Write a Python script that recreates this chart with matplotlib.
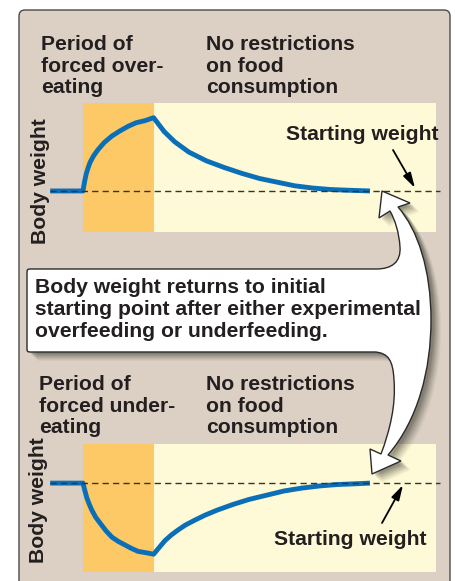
import numpy as np
import matplotlib
matplotlib.use("Agg")
import matplotlib.pyplot as plt
from matplotlib.path import Path
from matplotlib.patches import PathPatch, FancyBboxPatch
from matplotlib import rcParams
rcParams['font.family'] = ['Liberation Sans', 'DejaVu Sans']

# time (arbitrary units) and body weight relative to starting weight
t_over = [-0.93, 0.0, 0.02, 0.05, 0.09, 0.14, 0.2, 0.3, 0.42, 0.6, 0.82, 1.05, 1.27, 1.5, 1.76, 2.0,
          2.3, 2.6, 3.0, 3.5, 4.0, 4.5, 5.0, 5.5, 6.0, 6.5, 7.0, 7.5, 8.13]
w_over = [0.0, 0.0, 0.06, 0.14, 0.23, 0.31, 0.39, 0.48, 0.56, 0.66, 0.75, 0.82, 0.88, 0.93, 0.96, 1.0,
          0.81, 0.67, 0.53, 0.41, 0.32, 0.24, 0.17, 0.12, 0.07, 0.04, 0.02, 0.01, 0.0]

t_under = [-0.93, 0.0, 0.02, 0.05, 0.11, 0.18, 0.25, 0.36, 0.48, 0.65, 0.82, 1.0, 1.19, 1.38, 1.56, 1.8, 2.0,
           2.15, 2.32, 2.5, 2.69, 2.9, 3.17, 3.46, 3.8, 4.25, 4.7, 5.2, 5.7, 6.2, 6.7, 7.2, 7.7, 8.13]
w_under = [0.0, 0.0, -0.04, -0.10, -0.21, -0.30, -0.38, -0.48, -0.56, -0.67, -0.76, -0.82, -0.87, -0.92, -0.96, -0.98, -1.0,
           -0.91, -0.81, -0.73, -0.66, -0.59, -0.52, -0.45, -0.38, -0.30, -0.23, -0.17, -0.11, -0.07, -0.04, -0.02, -0.01, 0.0]

forced_period = (0.0, 2.0)
free_period = (2.0, 10.0)
baseline_span = (-0.93, 10.11)

labels_over = ["Period of", "forced over-", "eating"]
labels_under = ["Period of", "forced under-", "eating"]
labels_free = ["No restrictions", "on food", "consumption"]
callout_lines = ["Body weight returns to initial",
                 "starting point after either experimental",
                 "overfeeding or underfeeding."]

TAN = "#DCD0C4"
ORANGE = "#FDC966"
YELLOW = "#FEF9D6"
BLUE = "#0B6FB8"
INK = "#231F20"

W, H = 455, 581
fig = plt.figure(figsize=(W / 100, H / 100), dpi=100)

def pix_axes(x0, y0, x1, y1, zorder):
    ax = fig.add_axes([x0 / W, 1 - y1 / H, (x1 - x0) / W, (y1 - y0) / H])
    ax.set_zorder(zorder)
    return ax

# background axes in pixel units
bg = pix_axes(0, 0, W, H, 0)
bg.set_xlim(0, W)
bg.set_ylim(H, 0)
bg.axis("off")
bg.add_patch(FancyBboxPatch((19, 10), 431, 600, boxstyle="round,pad=0,rounding_size=6",
                            fc=TAN, ec="#4a4a4a", lw=1.0))

# plot axes: t -> px = 83 + 35.3 t
px_per_t = 35.3
xlim = (-1.1, 10.3)
xa0 = 83 + xlim[0] * px_per_t
xa1 = 83 + xlim[1] * px_per_t

def plot_panel(y_top, y_bot, ylim, t, w):
    ax = pix_axes(xa0, y_top, xa1, y_bot, 1)
    ax.set_xlim(*xlim)
    ax.set_ylim(*ylim)
    ax.axis("off")
    ax.axvspan(*forced_period, color=ORANGE, lw=0)
    ax.axvspan(*free_period, color=YELLOW, lw=0)
    ax.plot(t, w, color=BLUE, lw=3.5, solid_capstyle="butt", solid_joinstyle="round", zorder=3)
    ax.plot(baseline_span, [0, 0], color="#333333", lw=1.0, ls=(0, (4.5, 3)), zorder=4)
    return ax

plot_panel(103, 232, (-0.56, 1.2), t_over, w_over)
plot_panel(444, 572, (-1.25, 0.55), t_under, w_under)

# overlay axes in pixel units
ov = pix_axes(0, 0, W, H, 2)
ov.set_xlim(0, W)
ov.set_ylim(H, 0)
ov.axis("off")
ov.patch.set_alpha(0)

fs = 15.2
def lines_at(x, y0, lines, dy=21.5):
    for i, s in enumerate(lines):
        ov.text(x, y0 + i * dy, s, fontsize=fs, fontweight="bold", color=INK,
                ha="left", va="baseline")

lines_at(41, 50, labels_over)
lines_at(206, 50, labels_free)
lines_at(39, 390, labels_under)
lines_at(206, 390, labels_free)

ov.text(40, 181, "Body weight", rotation=90, fontsize=fs, fontweight="bold",
        color=INK, ha="center", va="center")
ov.text(39, 500, "Body weight", rotation=90, fontsize=fs, fontweight="bold",
        color=INK, ha="center", va="center")

ov.text(438, 140, "Starting weight", fontsize=fs, fontweight="bold", color=INK,
        ha="right", va="baseline")
ov.text(427, 545, "Starting weight", fontsize=fs, fontweight="bold", color=INK,
        ha="right", va="baseline")

arrow_kw = dict(arrowstyle="-|>,head_length=0.9,head_width=0.25", color="black", lw=1.3,
                shrinkA=0, shrinkB=0)
ov.annotate("", xy=(415, 188), xytext=(393, 150), arrowprops=arrow_kw)
ov.annotate("", xy=(403, 485), xytext=(382, 523), arrowprops=arrow_kw)

# callout box merged with the double-headed curved arrow
M, L, C = Path.MOVETO, Path.LINETO, Path.CURVE4
verts = [
    ((32, 269), M),
    ((376, 269), L),
    ((392, 269), C), ((401, 262), C), ((400, 247), C),
    ((399, 232), C), ((395, 220), C), ((390, 211), C),
    ((379, 218), L),
    ((382, 191), L),
    ((410, 203), L),
    ((398, 207), L),
    ((418, 230), C), ((431, 270), C), ((431, 320), C),
    ((431, 370), C), ((418, 420), C), ((388, 455), C),
    ((401, 461), L),
    ((372, 474), L),
    ((370, 449), L),
    ((381, 454), L),
    ((390, 430), C), ((396, 405), C), ((394, 380), C),
    ((393, 360), C), ((388, 353), C), ((375, 352), C),
    ((32, 352), L),
    ((27, 352), C), ((27, 352), C), ((27, 347), C),
    ((27, 274), L),
    ((27, 269), C), ((27, 269), C), ((32, 269), C),
    ((32, 269), Path.CLOSEPOLY),
]
pts = np.array([v for v, _ in verts], dtype=float)
codes = [c for _, c in verts]

for dx, a in [(10, 0.05), (9, 0.06), (8, 0.07), (7, 0.08), (6, 0.09), (5, 0.1), (4, 0.12), (3, 0.14)]:
    ov.add_patch(PathPatch(Path(pts + [dx, dx - 1], codes), fc="#3a3a30", ec="none",
                           alpha=a, zorder=1))
ov.add_patch(PathPatch(Path(pts, codes), fc="white", ec="#2a2a2a", lw=1.0, zorder=2))

lines_y = [293, 315, 337]
for s, y in zip(callout_lines, lines_y):
    ov.text(35, y, s, fontsize=fs, fontweight="bold", color=INK, ha="left",
            va="baseline", zorder=3)

fig.savefig("out.png", dpi=100)
